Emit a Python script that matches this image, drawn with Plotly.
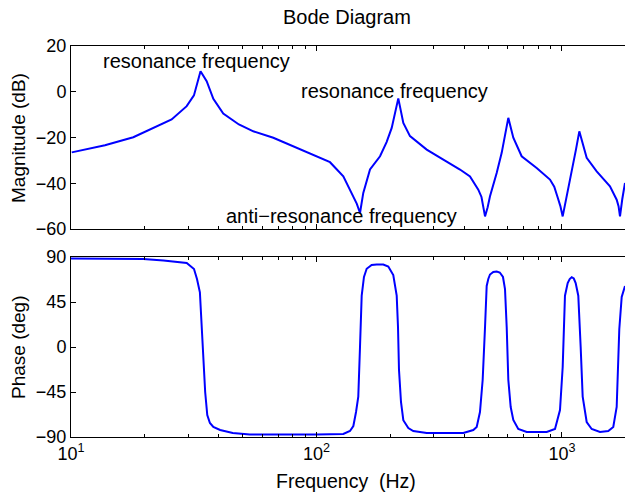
import math
import plotly.graph_objects as go

# ---- data ----
mag_freq = [10.07, 13.75, 17.94, 21.65, 25.7, 29.6, 31.68, 33.7, 35.7, 38.0, 41.7, 48.3, 55.3, 66.7, 80.5,
            100, 113.5, 128.6, 141.3, 146, 150.4, 155.1, 165.2, 181.5, 193, 202.5, 215.4, 225.8, 240.4, 281.2,
            328.6, 384.2, 422.0, 456.2, 470, 480, 485.9, 498, 509.1, 542.0, 568.1, 604.5, 633.5, 685.1, 788.6,
            893.6, 930, 957.0, 985, 1006.7, 1040, 1078, 1140, 1176.5, 1260.7, 1384.8, 1568.6, 1670.5, 1700,
            1723.3, 1760, 1806]
mag_db = [-26.5, -23.4, -19.9, -15.8, -12.1, -6.3, -1.6, 9.0, 4.6, -3.1, -9.5, -14.3, -17.3, -20.1, -23.8,
          -28.2, -30.8, -37.0, -45.7, -49.0, -53.0, -44.2, -34.0, -28.2, -22.0, -15.8, -2.9, -13.6, -19.4, -25.3,
          -29.7, -34.0, -37.0, -42.8, -46.0, -51.0, -54.5, -50.5, -45.7, -35.5, -26.7, -11.4, -20.1, -28.2, -33.3,
          -38.4, -41.5, -45.7, -50.0, -54.5, -46.0, -38.4, -25.3, -17.3, -28.9, -34.8, -41.3, -47.2, -50.0,
          -54.5, -47.0, -39.9]

ph_freq = [10, 19.7, 23.8, 29.6, 31.7, 32.6, 33.5, 34.6, 35.2, 35.9, 36.8, 38.0, 40.5, 45.6, 53.5,
           100, 128.6, 136.9, 141.3, 144.9, 148.0, 150.4, 152.8, 156.1, 160.1, 167.8, 175.9, 187.1,
           196.1, 205.5, 212.2, 214.8, 216.8, 220.9, 225.8, 236.6, 247.9, 281.2,
           396.3, 435.3, 449.4, 463.4, 475.3, 485.9, 493.5, 501, 509.1, 525, 542.0, 558, 575, 586.0, 595.4,
           604.5, 618.1, 633.5, 663.7, 718.3, 866.4, 936.6,
           981.5, 1006.7, 1028.5, 1055, 1075, 1095.5, 1117, 1137, 1165.3, 1191.6, 1214.3, 1260.7, 1321.3,
           1428.4, 1544, 1618, 1670.5, 1711.8, 1751, 1806]
ph_deg = [88.5, 88, 86.5, 84, 78, 68, 54.7, -9.3, -45, -68, -76, -80, -83, -86, -87.5,
          -87.5, -87, -84, -79, -65, -49.6, 0, 51.3, 70, 78.2, 82, 82.6, 82.5,
          80.5, 72, 51.3, 20, -22.7, -55, -73.2, -81, -84, -86,
          -86, -83, -80, -65, -32.8, 20, 61, 68, 72.5, 75, 75.5, 74.5, 70, 58, 20,
          -32.8, -60, -73, -82, -85, -85, -82,
          -63, -20, 51.3, 64, 68, 69.8, 68.5, 64, 51.3, 0, -49.6, -75, -82,
          -85, -84, -80, -60, 17.7, 50, 61]

annot_texts = ["resonance frequency", "resonance frequency", "anti\u2212resonance frequency"]
annot_freq = [13.2, 84.9, 42]
annot_db = [13.3, 0.3, -54.5]

mag_ticks = [-60, -40, -20, 0, 20]
ph_ticks = [-90, -45, 0, 45, 90]
x_major = [10, 100, 1000]
x_major_text = ["10<sup>1</sup>", "10<sup>2</sup>", "10<sup>3</sup>"]
x_minor = [20, 30, 40, 50, 60, 70, 80, 90, 200, 300, 400, 500, 600, 700, 800, 900]
x_max = 1806

FONT = "Liberation Sans, Arial, sans-serif"
BLUE = "#0000ff"
xr = [1, math.log10(x_max)]

fig = go.Figure()
fig.add_trace(go.Scatter(x=mag_freq, y=mag_db, mode="lines", line=dict(color=BLUE, width=2),
                         xaxis="x", yaxis="y", showlegend=False, hoverinfo="skip"))
fig.add_trace(go.Scatter(x=ph_freq, y=ph_deg, mode="lines", line=dict(color=BLUE, width=2),
                         xaxis="x2", yaxis="y2", showlegend=False, hoverinfo="skip"))

for t, f, d in zip(annot_texts, annot_freq, annot_db):
    fig.add_annotation(x=math.log10(f), y=d, xref="x", yref="y", text=t, showarrow=False,
                       xanchor="left", yanchor="middle", font=dict(size=20, color="black", family=FONT))

# axis titles and chart title as positioned text
W, H = 625, 492
ML, MR, MT, MB = 71, 0, 46, 55
PW, PH = W - ML - MR, H - MT - MB

def px_x(x):
    return (x - ML) / PW

def px_y(y):
    return (H - MB - y) / PH

fig.add_annotation(x=px_x(18), y=px_y(138), xref="paper", yref="paper", text="Magnitude (dB)",
                   textangle=-90, showarrow=False, xanchor="center", yanchor="middle",
                   font=dict(size=19, color="black", family=FONT))
fig.add_annotation(x=px_x(18), y=px_y(347), xref="paper", yref="paper", text="Phase (deg)",
                   textangle=-90, showarrow=False, xanchor="center", yanchor="middle",
                   font=dict(size=19, color="black", family=FONT))
fig.add_annotation(x=px_x(346), y=px_y(481), xref="paper", yref="paper", text="Frequency\u00a0\u00a0(Hz)",
                   showarrow=False, xanchor="center", yanchor="middle",
                   font=dict(size=19.5, color="black", family=FONT))
fig.add_annotation(x=px_x(347), y=px_y(17), xref="paper", yref="paper", text="Bode Diagram",
                   showarrow=False, xanchor="center", yanchor="middle",
                   font=dict(size=20, color="black", family=FONT))

common_x = dict(type="log", range=xr, showline=True, linecolor="black", linewidth=1,
                mirror="ticks", ticks="inside", ticklen=5, tickcolor="black", showgrid=False,
                zeroline=False, tickvals=x_major, automargin=False,
                minor=dict(tickvals=x_minor, ticks="inside", ticklen=3, tickcolor="black", showgrid=False))
common_y = dict(showline=True, linecolor="black", linewidth=1, ticks="inside", ticklen=5,
                tickcolor="black", showgrid=False, zeroline=False, mirror=False, automargin=False,
                tickfont=dict(size=18, color="black", family=FONT))

fig.update_layout(
    width=W, height=H,
    margin=dict(l=ML, r=MR, t=MT, b=MB, autoexpand=False),
    paper_bgcolor="white", plot_bgcolor="white",
    font=dict(family=FONT, size=18, color="black"),
    xaxis=dict(common_x, domain=[0, 1], anchor="y", showticklabels=False),
    yaxis=dict(common_y, domain=[px_y(229), 1], range=[-60, 20], tickvals=mag_ticks),
    xaxis2=dict(common_x, domain=[0, 1], anchor="y2", ticktext=x_major_text,
                tickfont=dict(size=18, color="black", family=FONT)),
    yaxis2=dict(common_y, domain=[0, px_y(257)], range=[-90, 90], tickvals=ph_ticks),
)

fig.write_html("out.html", config={"displayModeBar": False},
               post_script="document.body.style.margin='0px';"
                           "document.documentElement.style.overflow='hidden';")
